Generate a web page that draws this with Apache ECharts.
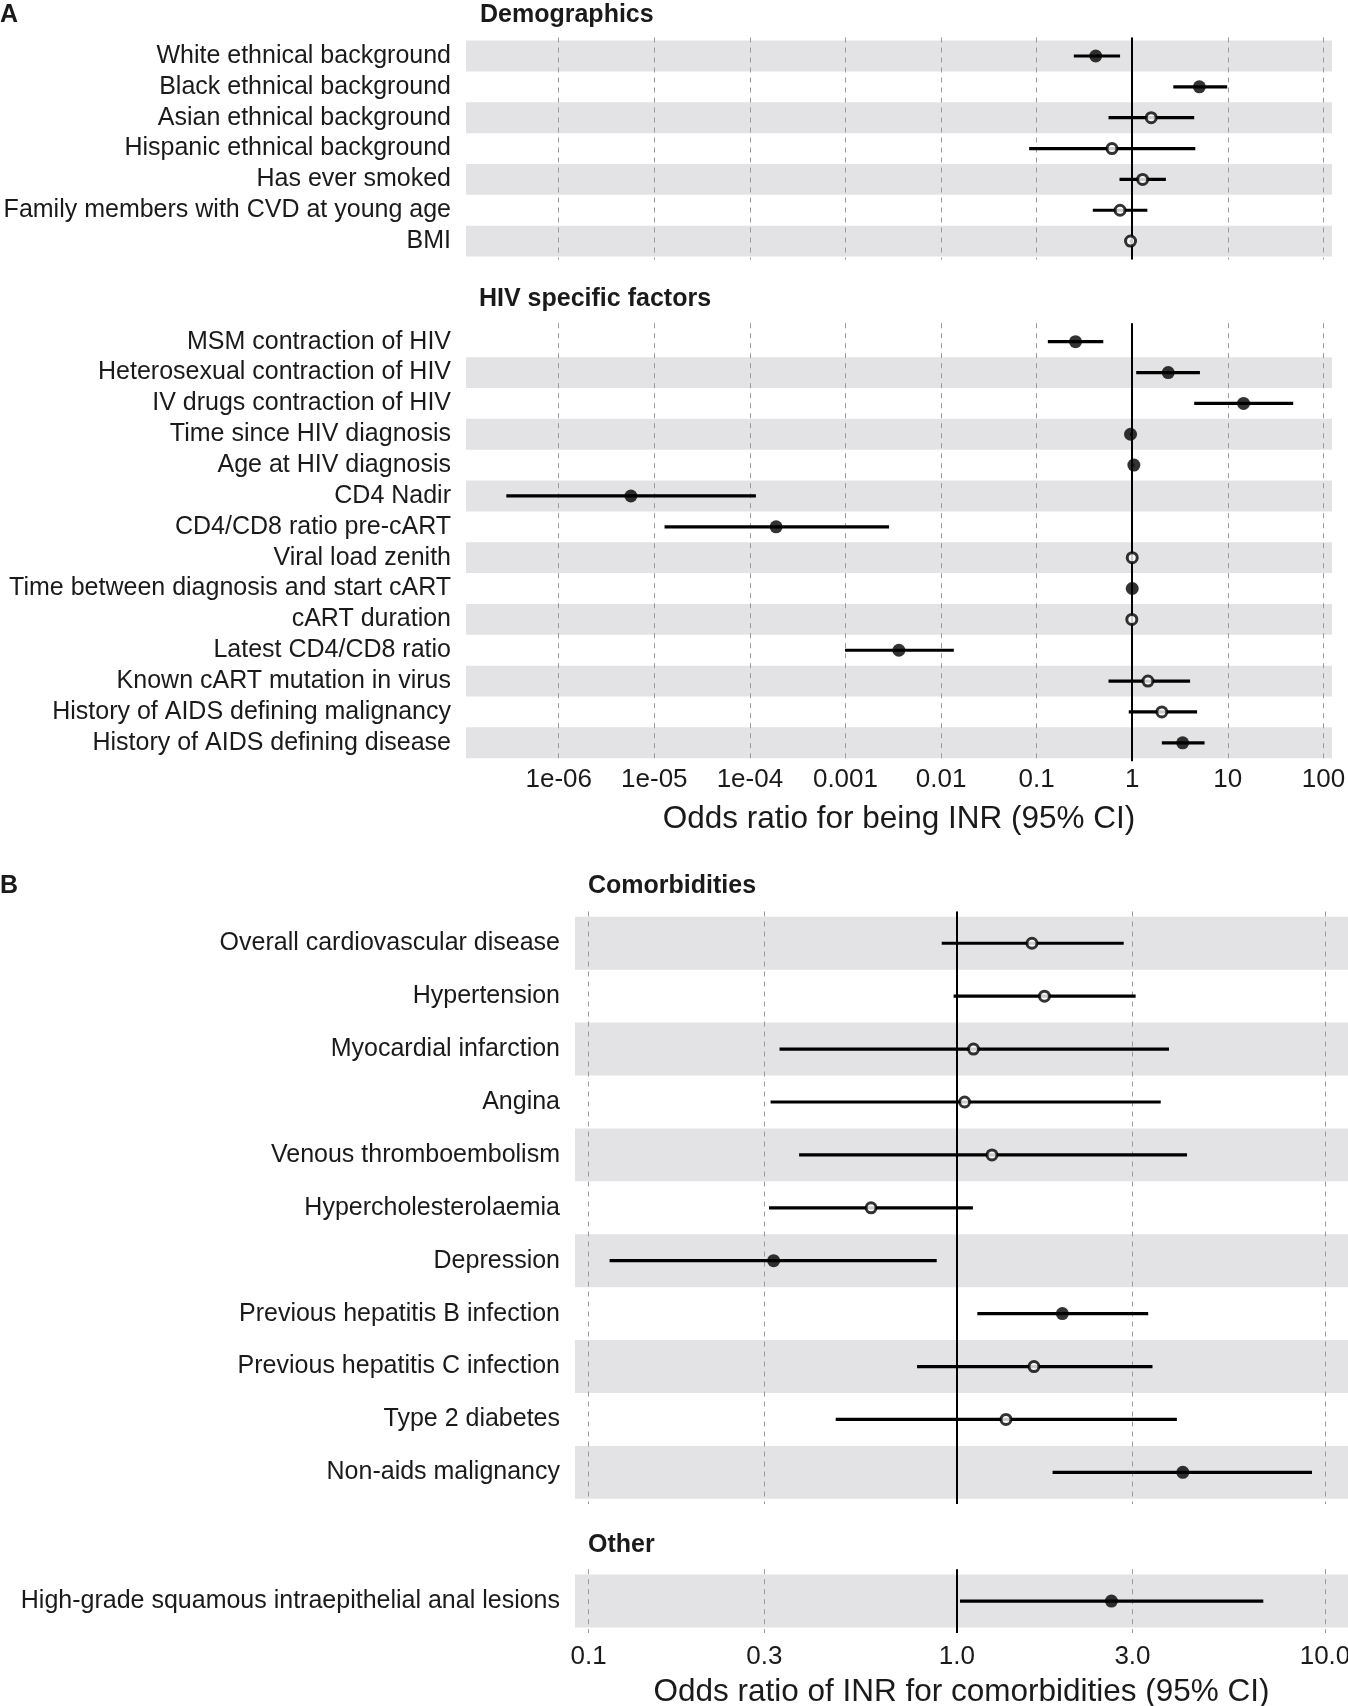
<!DOCTYPE html>
<html><head><meta charset="utf-8">
<script src="https://cdn.jsdelivr.net/npm/echarts@6/dist/echarts.min.js"></script>
<style>html,body{margin:0;padding:0;background:#fff}#chart{width:1348px;height:1706px}</style>
</head><body><div id="chart"></div>
<script>
// ---------- DATA ----------
const demoLabels = ['White ethnical background','Black ethnical background','Asian ethnical background','Hispanic ethnical background','Has ever smoked','Family members with CVD at young age','BMI'];
const demoOR   = [0.415, 5.04, 1.58, 0.614, 1.285, 0.746, 0.96];
const demoLow  = [0.245, 2.69, 0.565, 0.0835, 0.736, 0.387, 0.94];
const demoHigh = [0.746, 9.85, 4.45, 4.57, 2.25, 1.44, 0.98];
const demoSig  = [1, 1, 0, 0, 0, 0, 0];

const hivLabels = ['MSM contraction of HIV','Heterosexual contraction of HIV','IV drugs contraction of HIV','Time since HIV diagnosis','Age at HIV diagnosis','CD4 Nadir','CD4/CD8 ratio pre-cART','Viral load zenith','Time between diagnosis and start cART','cART duration','Latest CD4/CD8 ratio','Known cART mutation in virus','History of AIDS defining malignancy','History of AIDS defining disease'];
const hivOR   = [0.255, 2.38, 14.6, 0.96, 1.04, 5.69e-6, 1.88e-4, 1.0, 1.0, 0.99, 3.62e-3, 1.46, 2.04, 3.37];
const hivLow  = [0.131, 1.10, 4.45, 0.95, 1.03, 2.83e-7, 1.28e-5, 0.99, 0.995, 0.98, 9.9e-4, 0.565, 0.92, 2.04];
const hivHigh = [0.498, 5.11, 48.3, 0.97, 1.05, 1.156e-4, 2.86e-3, 1.01, 1.005, 1.0, 0.0136, 4.03, 4.77, 5.71];
const hivSig  = [1, 1, 1, 1, 1, 1, 1, 0, 1, 0, 1, 0, 0, 1];

const comorbLabels = ['Overall cardiovascular disease','Hypertension','Myocardial infarction','Angina','Venous thromboembolism','Hypercholesterolaemia','Depression','Previous hepatitis B infection','Previous hepatitis C infection','Type 2 diabetes','Non-aids malignancy'];
const comorbOR   = [1.60, 1.73, 1.11, 1.05, 1.246, 0.585, 0.318, 1.935, 1.62, 1.36, 4.11];
const comorbLow  = [0.91, 0.98, 0.33, 0.312, 0.373, 0.309, 0.114, 1.137, 0.78, 0.469, 1.82];
const comorbHigh = [2.84, 3.06, 3.77, 3.58, 4.22, 1.106, 0.882, 3.31, 3.40, 3.96, 9.22];
const comorbSig  = [0, 0, 0, 0, 0, 0, 1, 1, 0, 0, 1];

const otherLabels = ['High-grade squamous intraepithelial anal lesions'];
const otherOR   = [2.63];
const otherLow  = [1.02];
const otherHigh = [6.80];
const otherSig  = [1];

const ticksA = [1e-6, 1e-5, 1e-4, 0.001, 0.01, 0.1, 1, 10, 100];
const tickLabelsA = ['1e-06','1e-05','1e-04','0.001','0.01','0.1','1','10','100'];
const ticksB = [0.1, 0.3, 1, 3, 10];
const tickLabelsB = ['0.1','0.3','1.0','3.0','10.0'];

const titleA = 'Odds ratio for being INR (95% CI)';
const titleB = 'Odds ratio of INR for comorbidities (95% CI)';

// ---------- BUILD ----------
const FONT = '"Liberation Sans", Arial, Helvetica, sans-serif';
const INK = '#1a1a1a';
const grids = [], xAxes = [], yAxes = [], series = [];

function addPanel(cfg) {
  const gi = grids.length;
  const n = cfg.labels.length;
  const idx = cfg.labels.map((_, i) => i);
  const tickVals = cfg.ticks.map(t => Math.log10(t));
  grids.push({left: cfg.left, top: cfg.top, width: cfg.width, height: cfg.height,
              containLabel: false, outerBoundsMode: 'none'});
  xAxes.push({
    gridIndex: gi, type: 'value', min: cfg.xmin, max: cfg.xmax,
    axisLine: {show: false},
    axisTick: {show: false, customValues: tickVals},
    axisLabel: {
      show: !!cfg.showX, customValues: tickVals, margin: cfg.labelMargin || 8,
      fontSize: 26, color: INK, fontFamily: FONT, hideOverlap: false,
      formatter: v => { const k = tickVals.findIndex(t => Math.abs(t - v) < 1e-6); return k >= 0 ? cfg.tickLabels[k] : ''; }
    },
    splitLine: {show: true, lineStyle: {color: '#9a9a9a', width: 1, type: [5, 5]}},
    name: cfg.xName || '', nameLocation: 'middle', nameGap: cfg.nameGap || 40,
    nameTextStyle: {fontSize: 31.5, color: INK, fontFamily: FONT}
  });
  yAxes.push({
    gridIndex: gi, type: 'value', inverse: true, min: -0.6, max: n - 0.4,
    axisLine: {show: false},
    axisTick: {show: false, customValues: idx},
    splitLine: {show: false},
    axisLabel: {
      customValues: idx, margin: 15, fontSize: 25, color: INK, fontFamily: FONT,
      formatter: v => cfg.labels[Math.round(v)] || ''
    }
  });
  // alternating shaded bands (counted from the bottom row)
  const shaded = idx.filter(i => (n - 1 - i) % 2 === 0);
  series.push({
    type: 'custom', xAxisIndex: gi, yAxisIndex: gi, z: -1, silent: true,
    data: shaded.map(i => [i]), encode: {y: 0},
    renderItem(params, api) {
      const i = api.value(0);
      const cs = params.coordSys;
      const a = api.coord([0, i - 0.5]), b = api.coord([0, i + 0.5]);
      return {type: 'rect', shape: {x: cs.x, y: Math.min(a[1], b[1]), width: cs.width, height: Math.abs(b[1] - a[1])},
              style: {fill: '#e3e3e5'}};
    }
  });
  // confidence intervals
  series.push({
    type: 'custom', xAxisIndex: gi, yAxisIndex: gi, z: 2, silent: true,
    data: cfg.or.map((_, i) => [Math.log10(cfg.low[i]), Math.log10(cfg.high[i]), i]),
    encode: {x: [0, 1], y: 2},
    renderItem(params, api) {
      const y = api.value(2);
      const p1 = api.coord([api.value(0), y]), p2 = api.coord([api.value(1), y]);
      return {type: 'line', shape: {x1: p1[0], y1: p1[1], x2: p2[0], y2: p2[1]},
              style: {stroke: '#000', lineWidth: 3.2}};
    }
  });
  // point estimates + reference line at OR = 1
  series.push({
    type: 'scatter', xAxisIndex: gi, yAxisIndex: gi, z: 3, silent: true, symbol: 'circle',
    data: cfg.or.map((v, i) => ({
      value: [Math.log10(v), i],
      symbolSize: cfg.sig[i] ? 13 : 10,
      itemStyle: cfg.sig[i] ? {color: '#000'} : {color: '#fff', borderColor: '#000', borderWidth: 3}
    })),
    markLine: {
      silent: true, z: 1, symbol: ['none', 'none'], label: {show: false},
      lineStyle: {color: '#000', width: 2, type: 'solid'},
      emphasis: {disabled: true},
      data: [{xAxis: Math.log10(1)}]
    }
  });
}

addPanel({labels: demoLabels, or: demoOR, low: demoLow, high: demoHigh, sig: demoSig,
  left: 466, top: 37.5, width: 866, height: 222.1, xmin: -6.97, xmax: 2.09,
  ticks: ticksA, tickLabels: tickLabelsA, showX: false});
addPanel({labels: hivLabels, or: hivOR, low: hivLow, high: hivHigh, sig: hivSig,
  left: 466, top: 323.2, width: 866, height: 438.1, xmin: -6.97, xmax: 2.09,
  ticks: ticksA, tickLabels: tickLabelsA, showX: true, labelMargin: 6, xName: titleA, nameGap: 42});
addPanel({labels: comorbLabels, or: comorbOR, low: comorbLow, high: comorbHigh, sig: comorbSig,
  left: 575, top: 911.5, width: 773, height: 592.6, xmin: -1.037, xmax: 1.0625,
  ticks: ticksB, tickLabels: tickLabelsB, showX: false});
addPanel({labels: otherLabels, or: otherOR, low: otherLow, high: otherHigh, sig: otherSig,
  left: 575, top: 1569.2, width: 773, height: 63.7, xmin: -1.037, xmax: 1.0625,
  ticks: ticksB, tickLabels: tickLabelsB, showX: true, labelMargin: 11, xName: titleB, nameGap: 43});

function head(text, left, top, size) {
  return {text, left, top, padding: 0, textStyle: {fontSize: size || 25, fontWeight: 'bold', color: INK, fontFamily: FONT}};
}

const option = {
  backgroundColor: '#fff',
  animation: false,
  textStyle: {fontFamily: FONT},
  title: [
    head('A', 0, 3, 25),
    head('Demographics', 480, 3),
    head('HIV specific factors', 479, 286.5),
    head('B', 0, 873.5, 25),
    head('Comorbidities', 588, 874),
    head('Other', 588, 1533)
  ],
  grid: grids, xAxis: xAxes, yAxis: yAxes, series
};

const chart = echarts.init(document.getElementById('chart'), null, {renderer: 'canvas'});
chart.setOption(option);
</script></body></html>
